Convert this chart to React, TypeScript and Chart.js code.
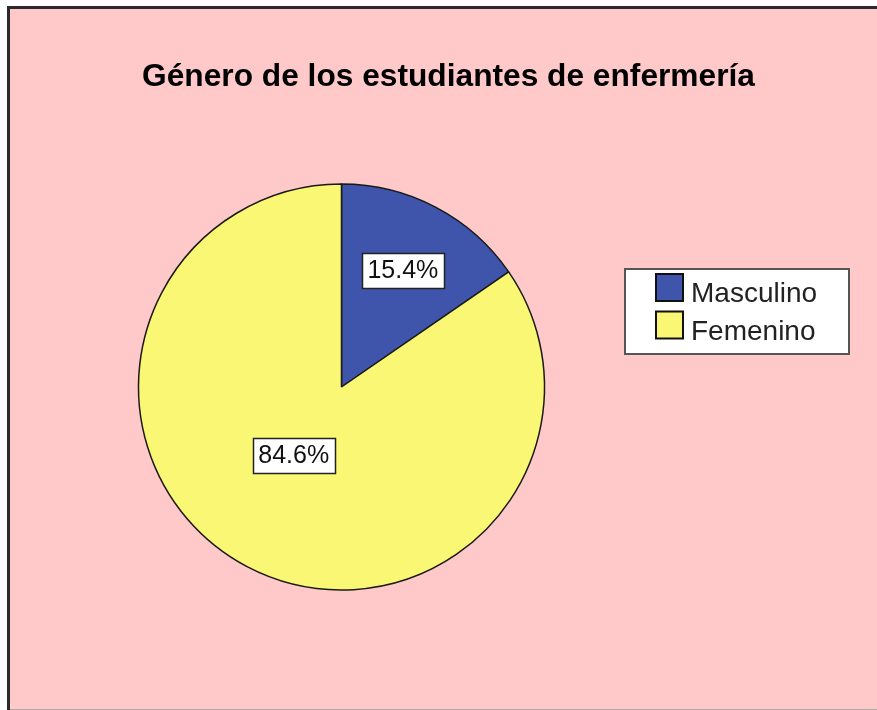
import React, { useEffect, useRef } from "react";
import { Chart, registerables } from "chart.js";

Chart.register(...registerables);

const categories = ["Masculino", "Femenino"];
const percentages = [15.4, 84.6];
const sliceColors = ["#3E55AB", "#FAF774"];
const chartTitle = "Género de los estudiantes de enfermería";

const FONT = '"Liberation Sans", Arial, Helvetica, sans-serif';
const W = 877;
const H = 710;

// label placement inside each slice: a = fraction of slice angle, r = fraction of radius
const labelPlacement = [
  { a: 0.5, r: 0.65 },
  { a: 0.524, r: 0.41 },
];

const framePlugin = {
  id: "frame",
  beforeDraw(chart: any) {
    const ctx = chart.ctx;
    ctx.save();
    ctx.fillStyle = "#FFFFFF";
    ctx.fillRect(0, 0, W, H);
    ctx.fillStyle = "#FFC9C9";
    ctx.fillRect(9, 8, W - 9, H - 8);
    ctx.fillStyle = "#2a2a2a";
    ctx.fillRect(7, 6, 3, H - 6);
    ctx.fillRect(7, 6, W - 7, 3);
    ctx.fillStyle = "#aaaaaa";
    ctx.fillRect(10, H - 1, W - 10, 1);
    ctx.restore();
  },
};

const titlePlugin = {
  id: "customTitle",
  afterDraw(chart: any) {
    const ctx = chart.ctx;
    ctx.save();
    ctx.font = `bold 31.7px ${FONT}`;
    ctx.fillStyle = "#000";
    ctx.textAlign = "center";
    ctx.textBaseline = "alphabetic";
    ctx.fillText(chartTitle, 448.5, 86);
    ctx.restore();
  },
};

const sliceLabelPlugin = {
  id: "sliceLabels",
  afterDatasetsDraw(chart: any) {
    const ctx = chart.ctx;
    const meta = chart.getDatasetMeta(0);
    const values = chart.data.datasets[0].data as number[];
    ctx.save();
    ctx.font = `25px ${FONT}`;
    meta.data.forEach((arc: any, i: number) => {
      const { x, y, startAngle, endAngle, outerRadius } = arc.getProps(
        ["x", "y", "startAngle", "endAngle", "outerRadius"],
        true
      );
      const p = labelPlacement[i] || { a: 0.5, r: 0.6 };
      const ang = startAngle + (endAngle - startAngle) * p.a;
      const cx = x + Math.cos(ang) * outerRadius * p.r;
      const cy = y + Math.sin(ang) * outerRadius * p.r;
      const text = `${values[i].toFixed(1)}%`;
      const tw = ctx.measureText(text).width;
      const bw = Math.round(tw + 11);
      const bh = 35;
      const bx = Math.round(cx - bw / 2) + 0.5;
      const by = Math.round(cy - bh / 2) + 0.5;
      ctx.fillStyle = "#FFFFFF";
      ctx.fillRect(bx, by, bw, bh);
      ctx.strokeStyle = "#222";
      ctx.lineWidth = 1.5;
      ctx.strokeRect(bx, by, bw, bh);
      ctx.fillStyle = "#111";
      ctx.textAlign = "center";
      ctx.textBaseline = "middle";
      ctx.fillText(text, cx, cy + 1);
    });
    ctx.restore();
  },
};

const legendPlugin = {
  id: "customLegend",
  afterDraw(chart: any) {
    const ctx = chart.ctx;
    const labels = chart.data.labels as string[];
    const colors = chart.data.datasets[0].backgroundColor as string[];
    ctx.save();
    ctx.fillStyle = "#FFFFFF";
    ctx.fillRect(624, 268, 225, 86);
    ctx.strokeStyle = "#555";
    ctx.lineWidth = 2;
    ctx.strokeRect(625, 269, 224, 85);
    ctx.font = `28px ${FONT}`;
    ctx.textAlign = "left";
    ctx.textBaseline = "alphabetic";
    labels.forEach((lab, i) => {
      const top = 274 + i * 37.5;
      ctx.fillStyle = colors[i];
      ctx.fillRect(656, top, 27, 27);
      ctx.strokeStyle = "#111";
      ctx.lineWidth = 2;
      ctx.strokeRect(656, top, 27, 27);
      ctx.fillStyle = "#222";
      ctx.fillText(lab, 691, top + 28);
    });
    ctx.restore();
  },
};

export default function App() {
  const ref = useRef<HTMLCanvasElement | null>(null);
  useEffect(() => {
    if (!ref.current) return;
    const chart = new Chart(ref.current, {
      type: "pie",
      data: {
        labels: categories,
        datasets: [
          {
            data: percentages,
            backgroundColor: sliceColors,
            borderColor: "#1a1a1a",
            borderWidth: 1.5,
            radius: 203,
          },
        ],
      },
      options: {
        responsive: false,
        animation: false,
        devicePixelRatio: 1,
        layout: { padding: { left: 138, right: W - 545, top: 184, bottom: H - 590 } },
        plugins: {
          legend: { display: false },
          title: { display: false },
          tooltip: { enabled: false },
        },
      },
      plugins: [framePlugin, sliceLabelPlugin, titlePlugin, legendPlugin],
    });
    return () => chart.destroy();
  }, []);
  return (
    <div style={{ position: "fixed", left: 0, top: 0, width: W, height: H, background: "#fff" }}>
      <canvas ref={ref} width={W} height={H} style={{ display: "block", width: W, height: H }} />
    </div>
  );
}
